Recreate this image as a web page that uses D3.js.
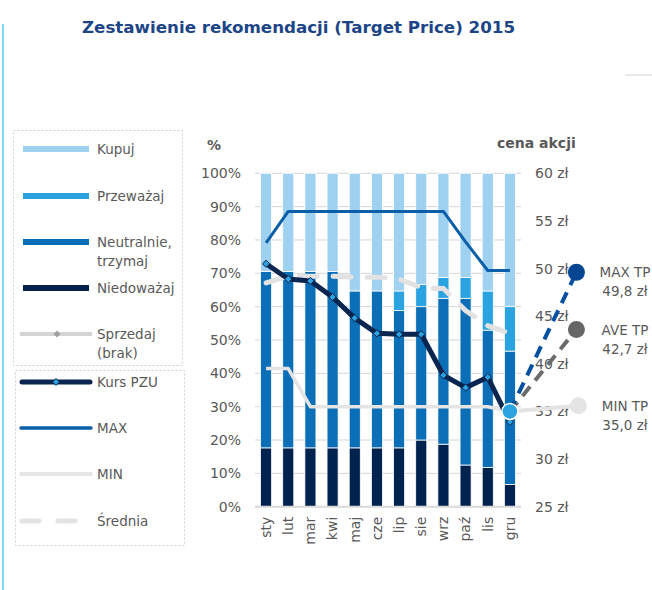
<!DOCTYPE html>
<html>
<head>
<meta charset="utf-8">
<title>Zestawienie rekomendacji</title>
<script src="https://d3js.org/d3.v7.min.js"></script>
<style>
  body { margin: 0; background: #fff; }
  text { font-family: "DejaVu Sans", sans-serif; fill: #595959; }
</style>
</head>
<body>
<script>
// miesiace i struktura rekomendacji (%)
var months = ["sty","lut","mar","kwi","maj","cze","lip","sie","wrz","paź","lis","gru"];
var niedowazaj = [17.65,17.65,17.65,17.65,17.65,17.65,17.65,20.00,18.75,12.50,11.76,6.67];
var neutralnie = [52.94,52.94,52.94,52.94,47.06,47.06,41.18,40.00,43.75,50.00,41.18,40.00];
var przewazaj  = [0,0,0,0,0,0,5.88,6.67,6.25,6.25,11.76,13.33];
var kupuj      = [29.41,29.41,29.41,29.41,35.29,35.29,35.29,33.33,31.25,31.25,35.29,40.00];
var sprzedaj   = [0,0,0,0,0,0,0,0,0,0,0,0];

// linie cenowe (zl)
var kursPZU  = [50.5,48.9,48.7,47.0,44.8,43.2,43.1,43.1,38.8,37.5,38.6,33.9];
var maxTP    = [52.7,56.0,56.0,56.0,56.0,56.0,56.0,56.0,56.0,52.8,49.8,49.8];
var minTP    = [39.5,39.5,35.5,35.5,35.5,35.5,35.5,35.5,35.5,35.5,35.5,35.0];
var sredniaTP = [48.5,49.2,49.2,49.2,49.1,49.1,48.9,48.0,47.9,45.6,44.0,43.2];

var pctTicks = [0,10,20,30,40,50,60,70,80,90,100];
var zlTicks = [25,30,35,40,45,50,55,60];

// podsumowanie po prawej
var tpNames  = ["MAX TP","AVE TP","MIN TP"];
var tpLabels = ["49,8 zł","42,7 zł","35,0 zł"];
var tpMarkers = [49.6, 43.6, 35.6];
var startPoint = 35.0;

var W = 652, H = 590;
var svg = d3.select("body").append("svg").attr("width", W).attr("height", H);

var colors = {"Niedoważaj":"#00224f","Neutralnie":"#0b6fb7","Przeważaj":"#2aa3e0","Kupuj":"#9fd1f1","Sprzedaj":"#cccccc"};

var x = d3.scaleBand().domain(months).range([255, 521]).paddingInner(0.5).paddingOuter(0.25);
var y = d3.scaleLinear().domain([0,100]).range([506.7, 173.3]);
var yR = d3.scaleLinear().domain([25,60]).range([506.7, 173.3]);
var cx = function(m){ return x(m) + x.bandwidth()/2; };

// maly romb (obrocony kwadrat)
var diamond = function(s){ return "M0,"+(-s)+"L"+s+",0L0,"+s+"L"+(-s)+",0Z"; };

// cienka linia z lewej i kreska u gory
svg.append("line").attr("x1",3).attr("x2",3).attr("y1",24).attr("y2",H)
  .attr("stroke","#55c8f0").attr("stroke-width",1.5);
svg.append("line").attr("x1",625).attr("x2",652).attr("y1",75).attr("y2",75)
  .attr("stroke","#e0e0e0").attr("stroke-width",1.5);

svg.append("text").attr("x",82).attr("y",33)
  .style("font-weight","bold").style("font-size","16.7px").style("fill","#1c4587")
  .text("Zestawienie rekomendacji (Target Price) 2015");

// siatka
svg.append("g").selectAll("line").data(pctTicks.slice(1)).enter().append("line")
  .attr("x1",255).attr("x2",521).attr("y1",function(d){return y(d);}).attr("y2",function(d){return y(d);})
  .attr("stroke","#d4d4d4").attr("stroke-width",1);

// slupki
var rows = months.map(function(m,i){
  return {month:m, "Niedoważaj":niedowazaj[i], "Neutralnie":neutralnie[i], "Przeważaj":przewazaj[i], "Kupuj":kupuj[i], "Sprzedaj":sprzedaj[i]};
});
var stack = d3.stack().keys(["Niedoważaj","Neutralnie","Przeważaj","Kupuj","Sprzedaj"])(rows);

svg.append("g").selectAll("g").data(stack).enter().append("g")
  .attr("fill", function(d){return colors[d.key];})
  .selectAll("rect").data(function(d){return d;}).enter().append("rect")
  .filter(function(d){return d[1]-d[0] > 0;})
  .attr("x", function(d){return x(d.data.month);})
  .attr("width", x.bandwidth())
  .attr("y", function(d){return y(d[1]);})
  .attr("height", function(d){return y(d[0]) - y(d[1]);})
  .attr("stroke","#fff").attr("stroke-width",0.8);

// os X
svg.append("line").attr("x1",255).attr("x2",521).attr("y1",y(0)).attr("y2",y(0))
  .attr("stroke","#d9d9d9").attr("stroke-width",2);

var xAxis = svg.append("g").attr("transform","translate(0,"+y(0)+")")
  .call(d3.axisBottom(x).tickSize(0).tickPadding(0));
xAxis.select(".domain").remove();
xAxis.selectAll("text")
  .attr("transform","translate(0,10) rotate(-90)")
  .attr("text-anchor","end").attr("x",0).attr("y",0).attr("dy","0.35em")
  .style("font-size","14px").style("font-family","DejaVu Sans").style("fill","#595959");

// osie Y
var yAxisL = svg.append("g").attr("transform","translate(241,0)")
  .call(d3.axisLeft(y).tickValues(pctTicks).tickSize(0).tickPadding(0).tickFormat(function(d){return d+"%";}));
yAxisL.select(".domain").remove();
yAxisL.selectAll("text").style("font-size","14px").style("font-family","DejaVu Sans").style("fill","#595959");

var yAxisR = svg.append("g").attr("transform","translate(535,0)")
  .call(d3.axisRight(yR).tickValues(zlTicks).tickSize(0).tickPadding(0).tickFormat(function(d){return d+" zł";}));
yAxisR.select(".domain").remove();
yAxisR.selectAll("text").style("font-size","14px").style("font-family","DejaVu Sans").style("fill","#595959");

svg.append("text").attr("x",207).attr("y",150).style("font-weight","bold").style("font-size","14px").text("%");
svg.append("text").attr("x",497).attr("y",148).style("font-weight","bold").style("font-size","14px").text("cena akcji");

// linie
var line = d3.line().x(function(d,i){return cx(months[i]);}).y(function(d){return yR(d);});

svg.append("path").attr("d", line(minTP)).attr("fill","none")
  .attr("stroke","#e4e4e4").attr("stroke-width",3.5).attr("stroke-linejoin","round");
svg.append("path").attr("d", line(sredniaTP)).attr("fill","none")
  .attr("stroke","#e2e2e2").attr("stroke-width",5).attr("stroke-dasharray","18,16").attr("stroke-linecap","round");
svg.append("path").attr("d", line(maxTP)).attr("fill","none")
  .attr("stroke","#0b5ea8").attr("stroke-width",3).attr("stroke-linejoin","round");

// od grudnia do wartosci TP
var gx = cx("gru"), tx = gx + 3 * x.step();
svg.append("line").attr("x1",gx).attr("y1",yR(startPoint)).attr("x2",tx+2).attr("y2",yR(tpMarkers[2]))
  .attr("stroke","#e4e4e4").attr("stroke-width",4);
svg.append("line").attr("x1",gx).attr("y1",yR(startPoint)).attr("x2",tx).attr("y2",yR(tpMarkers[1]))
  .attr("stroke","#6b6b6b").attr("stroke-width",4).attr("stroke-dasharray","12,8");
svg.append("line").attr("x1",gx).attr("y1",yR(startPoint)).attr("x2",tx).attr("y2",yR(tpMarkers[0]))
  .attr("stroke","#0450a0").attr("stroke-width",4).attr("stroke-dasharray","12,8");

svg.append("path").attr("d", line(kursPZU)).attr("fill","none")
  .attr("stroke","#0a2550").attr("stroke-width",5).attr("stroke-linejoin","round");
svg.append("g").selectAll("path").data(kursPZU).enter().append("path")
  .attr("d", diamond(3.6))
  .attr("transform", function(d,i){return "translate("+cx(months[i])+","+yR(d)+")";})
  .attr("fill","#2aa3e0").attr("stroke","#0a2550").attr("stroke-width",1);

svg.append("circle").attr("cx",gx).attr("cy",yR(startPoint)).attr("r",8)
  .attr("fill","#2aa3e0").attr("stroke","#fff").attr("stroke-width",1.5);

var tpFill = ["#054591","#666666","#e4e4e4"];
tpNames.forEach(function(n,i){
  var xx = i === 2 ? tx + 2 : tx;
  svg.append("circle").attr("cx",xx).attr("cy",yR(tpMarkers[i])).attr("r",8.5).attr("fill",tpFill[i]);
  svg.append("text").attr("x",625).attr("y",yR(tpMarkers[i])+5).attr("text-anchor","middle")
    .style("font-size","13.5px").text(n);
  svg.append("text").attr("x",625).attr("y",yR(tpMarkers[i])+24).attr("text-anchor","middle")
    .style("font-size","13.5px").text(tpLabels[i]);
});

// legenda
svg.append("rect").attr("x",13.5).attr("y",130.5).attr("width",169).attr("height",235)
  .attr("fill","none").attr("stroke","#d0d0d0").attr("stroke-dasharray","2,2");
svg.append("rect").attr("x",15.5).attr("y",370.5).attr("width",169).attr("height",175)
  .attr("fill","none").attr("stroke","#d0d0d0").attr("stroke-dasharray","2,2");

var legBars = [
  {key:"Kupuj", lines:["Kupuj"], y:149},
  {key:"Przeważaj", lines:["Przeważaj"], y:196},
  {key:"Neutralnie", lines:["Neutralnie,","trzymaj"], y:242},
  {key:"Niedoważaj", lines:["Niedoważaj"], y:288}
];
legBars.forEach(function(l){
  svg.append("rect").attr("x",23).attr("y",l.y-3).attr("width",66).attr("height",6).attr("fill",colors[l.key]);
  var t = svg.append("text").attr("x",97).attr("y",l.y+5).style("font-size","13.5px");
  l.lines.forEach(function(s,j){ t.append("tspan").attr("x",97).attr("dy", j ? 19 : 0).text(s); });
});
svg.append("line").attr("x1",20).attr("x2",92).attr("y1",334).attr("y2",334).attr("stroke","#d4d4d4").attr("stroke-width",4);
svg.append("path").attr("d", diamond(3.5)).attr("transform","translate(57,334)").attr("fill","#a0a0a0");
var ts = svg.append("text").attr("x",97).attr("y",339).style("font-size","13.5px");
ts.append("tspan").attr("x",97).text("Sprzedaj");
ts.append("tspan").attr("x",97).attr("dy",19).text("(brak)");

svg.append("line").attr("x1",22).attr("x2",90).attr("y1",382).attr("y2",382).attr("stroke","#0a2550").attr("stroke-width",5).attr("stroke-linecap","round");
svg.append("path").attr("d", diamond(3.5)).attr("transform","translate(56,382)").attr("fill","#2aa3e0").attr("stroke","#0a2550");
svg.append("text").attr("x",97).attr("y",387).style("font-size","13.5px").text("Kurs PZU");

svg.append("line").attr("x1",21).attr("x2",91).attr("y1",428).attr("y2",428).attr("stroke","#0b5ea8").attr("stroke-width",3.5).attr("stroke-linecap","round");
svg.append("text").attr("x",97).attr("y",433).style("font-size","13.5px").text("MAX");

svg.append("line").attr("x1",21).attr("x2",91).attr("y1",474).attr("y2",474).attr("stroke","#e6e6e6").attr("stroke-width",4).attr("stroke-linecap","round");
svg.append("text").attr("x",97).attr("y",479).style("font-size","13.5px").text("MIN");

svg.append("line").attr("x1",22).attr("x2",76).attr("y1",521).attr("y2",521).attr("stroke","#e3e3e3").attr("stroke-width",5)
  .attr("stroke-dasharray","17,19").attr("stroke-linecap","round");
svg.append("text").attr("x",97).attr("y",526).style("font-size","13.5px").text("Średnia");
</script>
</body>
</html>
